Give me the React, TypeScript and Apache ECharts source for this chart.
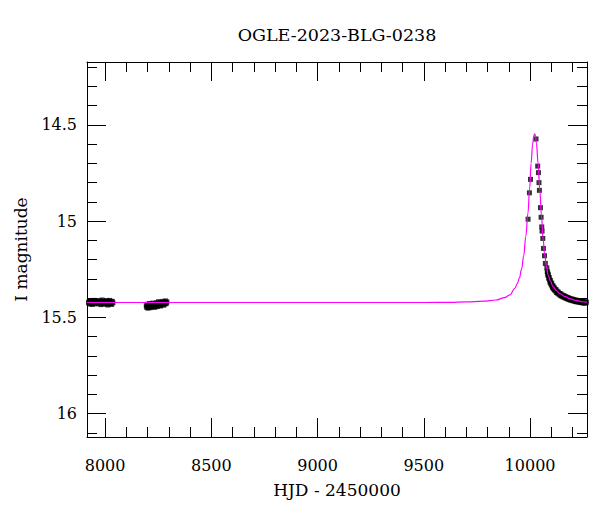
import React, { useEffect, useRef } from "react";
import * as echarts from "echarts";

const TITLE = "OGLE-2023-BLG-0238";
const X_NAME = "HJD - 2450000";
const Y_NAME = "I magnitude";
const X_MIN = 7915;
const X_MAX = 10268;
const Y_MIN = 14.173;
const Y_MAX = 16.122;

const xMajorTicks = [8000, 8500, 9000, 9500, 10000];
const xMinorTicks = [
  8000, 8100, 8200, 8300, 8400, 8500, 8600, 8700, 8800, 8900, 9000, 9100,
  9200, 9300, 9400, 9500, 9600, 9700, 9800, 9900, 10000, 10100, 10200,
];
const yMajorTicks = [14.5, 15, 15.5, 16];
const yMinorTicks = [
  14.2, 14.3, 14.4, 14.5, 14.6, 14.7, 14.8, 14.9, 15, 15.1, 15.2, 15.3, 15.4,
  15.5, 15.6, 15.7, 15.8, 15.9, 16, 16.1,
];

// observed points: season 1
const season1 = [
  [7922, 15.425], [7925, 15.418], [7927, 15.431], [7930, 15.422], [7932, 15.414],
  [7935, 15.428], [7937, 15.42], [7940, 15.433], [7942, 15.417], [7945, 15.426],
  [7948, 15.412], [7950, 15.424], [7953, 15.43], [7955, 15.419], [7958, 15.415],
  [7967, 15.421], [7970, 15.429], [7972, 15.413], [7975, 15.425], [7978, 15.418],
  [7980, 15.434], [7983, 15.422], [7986, 15.41], [7989, 15.427], [7992, 15.419],
  [7995, 15.431], [7998, 15.416], [8001, 15.424], [8004, 15.43], [8007, 15.413],
  [8010, 15.421], [8013, 15.436], [8016, 15.418], [8019, 15.426], [8022, 15.412],
  [8025, 15.429], [8028, 15.42], [8031, 15.433], [8034, 15.417], [8037, 15.425],
];

// observed points: season 2
const season2 = [
  [8194, 15.44], [8196, 15.448], [8199, 15.432], [8201, 15.452], [8204, 15.437],
  [8206, 15.445], [8209, 15.428], [8211, 15.45], [8214, 15.441], [8217, 15.433],
  [8219, 15.447], [8222, 15.436], [8225, 15.426], [8228, 15.443], [8231, 15.435],
  [8234, 15.448], [8237, 15.43], [8240, 15.439], [8243, 15.424], [8246, 15.444],
  [8249, 15.433], [8252, 15.419], [8255, 15.438], [8258, 15.428], [8261, 15.441],
  [8264, 15.422], [8267, 15.434], [8270, 15.426], [8273, 15.417], [8276, 15.437],
  [8279, 15.424], [8282, 15.431], [8285, 15.415], [8288, 15.428], [8291, 15.42],
];

// observed points: event season
const eventPoints = [
  [9990.6, 14.99], [9997, 14.853], [10002, 14.783], [10028, 14.573],
  [10036, 14.714], [10039.5, 14.748], [10042, 14.8], [10044, 14.84],
  [10049, 14.93], [10052, 14.98], [10055, 15.03], [10056.5, 15.052],
  [10060, 15.09], [10063, 15.142], [10068, 15.18], [10072, 15.22],
  [10079, 15.243], [10081, 15.262], [10083, 15.27], [10084, 15.281], [10086, 15.279],
  [10088, 15.297], [10090, 15.293], [10092, 15.306], [10094, 15.318], [10096, 15.309],
  [10098, 15.324], [10100, 15.331], [10102, 15.322], [10104, 15.337], [10106, 15.345],
  [10108, 15.336], [10110, 15.352], [10113, 15.344], [10115, 15.358], [10117, 15.353],
  [10120, 15.363], [10122, 15.356], [10125, 15.371], [10127, 15.364], [10130, 15.375],
  [10133, 15.369], [10136, 15.38], [10139, 15.376], [10142, 15.386], [10145, 15.378],
  [10148, 15.389], [10151, 15.384], [10154, 15.393], [10157, 15.387], [10160, 15.396],
  [10163, 15.39], [10166, 15.399], [10169, 15.393], [10172, 15.402], [10175, 15.397],
  [10178, 15.405], [10181, 15.399], [10184, 15.408], [10187, 15.402], [10190, 15.41],
  [10193, 15.404], [10196, 15.411], [10199, 15.406], [10202, 15.414], [10205, 15.408],
  [10208, 15.415], [10211, 15.41], [10214, 15.418], [10217, 15.411], [10220, 15.419],
  [10223, 15.413], [10226, 15.42], [10229, 15.415], [10232, 15.421], [10235, 15.414],
  [10238, 15.422], [10241, 15.417], [10244, 15.424], [10247, 15.418], [10250, 15.425],
  [10253, 15.419], [10256, 15.426], [10259, 15.42], [10262, 15.425], [10265, 15.421],
];

// model curve
const modelCurve = [
  [7915, 15.423], [9500, 15.423], [9620, 15.422], [9700, 15.42], [9780, 15.416],
  [9840, 15.41], [9880, 15.398], [9905, 15.383], [9928, 15.35], [9940, 15.325],
  [9950, 15.295], [9960, 15.25], [9970, 15.18], [9980, 15.08], [9990, 14.96],
  [9998, 14.83], [10005, 14.7], [10012, 14.6], [10018, 14.555], [10022, 14.547],
  [10026, 14.56], [10030, 14.595], [10038, 14.7], [10046, 14.84], [10054, 14.975],
  [10061, 15.09], [10069, 15.175], [10077, 15.235], [10085, 15.28], [10095, 15.31],
  [10108, 15.34], [10125, 15.362], [10140, 15.377], [10165, 15.392], [10187, 15.403],
  [10215, 15.412], [10249, 15.419], [10268, 15.421],
];

const FONT = "DejaVu Serif";
const line = { color: "#000", width: 1 };

function xAxisDef(pos: "top" | "bottom", ticks: number[], len: number, labels: boolean, showLine: boolean, name?: string) {
  return {
    type: "value",
    position: pos,
    min: X_MIN,
    max: X_MAX,
    name: name,
    nameLocation: "middle",
    nameGap: 44,
    nameTextStyle: { fontFamily: FONT, fontSize: 17, color: "#000" },
    axisLine: { show: showLine, onZero: false, lineStyle: line },
    axisTick: { show: true, inside: true, length: len, customValues: ticks, lineStyle: line },
    axisLabel: labels
      ? {
          show: true,
          customValues: ticks,
          margin: 20,
          fontFamily: FONT,
          fontSize: 16,
          color: "#000",
          formatter: (v: number) => String(v),
        }
      : { show: false },
    splitLine: { show: false },
  };
}

function yAxisDef(pos: "left" | "right", ticks: number[], len: number, labels: boolean, showLine: boolean, name?: string) {
  return {
    type: "value",
    position: pos,
    inverse: true,
    min: Y_MIN,
    max: Y_MAX,
    name: name,
    nameLocation: "middle",
    nameGap: 58,
    nameTextStyle: { fontFamily: FONT, fontSize: 17, color: "#000" },
    axisLine: { show: showLine, onZero: false, lineStyle: line },
    axisTick: { show: true, inside: true, length: len, customValues: ticks, lineStyle: line },
    axisLabel: labels
      ? {
          show: true,
          customValues: ticks,
          margin: 10,
          fontFamily: FONT,
          fontSize: 16,
          color: "#000",
          formatter: (v: number) => String(v),
        }
      : { show: false },
    splitLine: { show: false },
  };
}

export default function App() {
  const ref = useRef<HTMLDivElement>(null);
  useEffect(() => {
    if (!ref.current) return;
    const chart = echarts.init(ref.current, undefined, { renderer: "svg" });
    chart.setOption({
      animation: false,
      backgroundColor: "#fff",
      grid: { left: 87, right: 13, top: 62, bottom: 75, containLabel: false },
      graphic: [
        {
          type: "text",
          x: 337,
          y: 35,
          style: {
            text: TITLE,
            textAlign: "center",
            textVerticalAlign: "middle",
            fontFamily: FONT,
            fontSize: 17.5,
            fill: "#000",
          },
        },
      ],
      xAxis: [
        xAxisDef("bottom", xMajorTicks, 19, true, true, X_NAME),
        xAxisDef("bottom", xMinorTicks, 10, false, false),
        xAxisDef("top", xMajorTicks, 19, false, true),
        xAxisDef("top", xMinorTicks, 10, false, false),
      ],
      yAxis: [
        yAxisDef("left", yMajorTicks, 19, true, true, Y_NAME),
        yAxisDef("left", yMinorTicks, 10, false, false),
        yAxisDef("right", yMajorTicks, 19, false, true),
        yAxisDef("right", yMinorTicks, 10, false, false),
      ],
      series: [
        {
          type: "scatter",
          data: [...season1, ...season2, ...eventPoints],
          symbol: "rect",
          symbolSize: 5,
          itemStyle: { color: "#000" },
          z: 2,
        },
        {
          type: "line",
          data: modelCurve,
          showSymbol: false,
          symbol: "none",
          smooth: 0.4,
          smoothMonotone: "x",
          lineStyle: { color: "#ff00ff", width: 1.2 },
          z: 3,
        },
      ],
    });
    return () => chart.dispose();
  }, []);
  return (
    <div
      ref={ref}
      style={{ position: "fixed", left: 0, top: 0, width: 600, height: 512 }}
    />
  );
}
